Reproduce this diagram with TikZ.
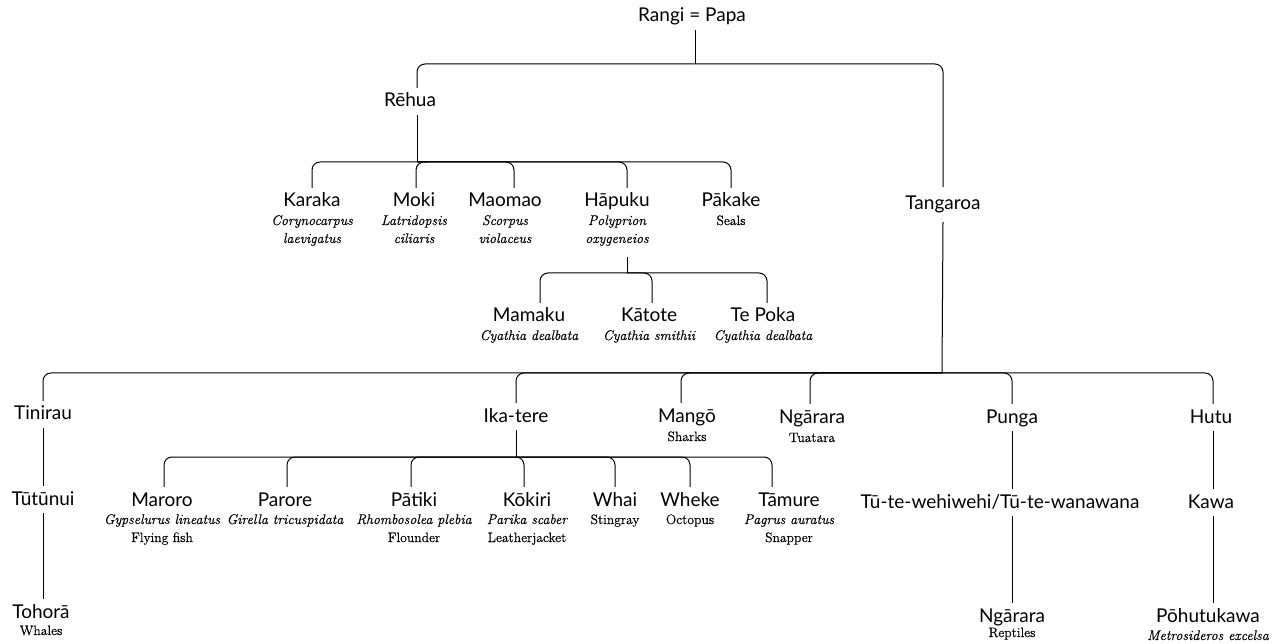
\documentclass[tikz,border=0pt]{standalone}
\usepackage{fontspec}
\newfontfamily\gsfamily{Lato}
\newfontfamily\gafamily[FakeBold=0.4]{Latin Modern Roman}
\newcommand\personfont{\gsfamily\fontsize{19}{22}\selectfont}
\newcommand\latinfont{\gafamily\itshape\fontsize{14}{16}\selectfont}
\newcommand\commonfont{\gafamily\upshape\fontsize{13.6}{16}\selectfont}
\tikzset{
  person/.style={font=\personfont, anchor=base, inner xsep=1pt, inner ysep=5pt,
                 text height=14pt, text depth=3pt},
  latin/.style={font=\latinfont, anchor=base, inner sep=0pt},
  common/.style={font=\commonfont, anchor=base, inner sep=0pt},
  link/.style={line width=1pt, black},
  corner/.style={link, rounded corners=8pt},
}
\begin{document}
\begin{tikzpicture}[x=1pt, y=-1pt]
\useasboundingbox[fill=white] (0,0) rectangle (1275,644);

% ---- first generations
\node[person] (rangi) at (692,22) {Rangi = Papa};
\node[person] (rehua) at (410,107) {Rēhua};
\node[person, inner ysep=9pt] (tangaroa) at (943,210) {Tangaroa};

% ---- children of Rehua
\node[person] (karaka) at (312,207) {Karaka};
\node[latin] (karakaA) at (312,225) {Corynocarpus};
\node[latin] (karakaB) at (312,243) {laevigatus};
\node[person] (moki) at (414,207) {Moki};
\node[latin] (mokiA) at (414,225) {Latridopsis};
\node[latin] (mokiB) at (414,243) {ciliaris};
\node[person] (maomao) at (505,207) {Maomao};
\node[latin] (maomaoA) at (505,225) {Scorpus};
\node[latin] (maomaoB) at (505,243) {violaceus};
\node[person] (hapuku) at (617,207) {Hāpuku};
\node[latin] (hapukuA) at (617,225) {Polyprion};
\node[latin, inner ysep=10pt, text depth=4pt] (hapukuB) at (617,243) {oxygeneios};
\node[person] (pakake) at (731,207) {Pākake};
\node[common] (pakakeA) at (731,225) {Seals};

% ---- children of Hapuku
\node[person] (mamaku) at (529,322) {Mamaku};
\node[latin] (mamakuA) at (529,340) {Cyathia dealbata};
\node[person] (katote) at (649,322) {Kātote};
\node[latin] (katoteA) at (649,340) {Cyathia smithii};
\node[person] (tepoka) at (763,322) {Te Poka};
\node[latin] (tepokaA) at (763,340) {Cyathia dealbata};

% ---- children of Tangaroa
\node[person] (tinirau) at (43,420) {Tinirau};
\node[person] (ikatere) at (516,422) {Ika-tere};
\node[person] (mango) at (687,422) {Mangō};
\node[common] (mangoA) at (687,441) {Sharks};
\node[person] (ngararaT) at (812,423) {Ngārara};
\node[common] (ngararaTA) at (812,442) {Tuatara};
\node[person] (punga) at (1012,423) {Punga};
\node[person] (hutu) at (1211,423) {Hutu};

% ---- line of Tinirau
\node[person] (tutunui) at (43,505) {Tūtūnui};
\node[person] (tohora) at (41,618) {Tohorā};
\node[common] (tohoraA) at (41,635) {Whales};

% ---- children of Ika-tere
\node[person] (maroro) at (162,506) {Maroro};
\node[latin] (maroroA) at (162,524) {Gypselurus lineatus};
\node[common] (maroroB) at (162,542) {Flying fish};
\node[person] (parore) at (285,506) {Parore};
\node[latin] (paroreA) at (285,524) {Girella tricuspidata};
\node[person] (patiki) at (414,506) {Pātiki};
\node[latin] (patikiA) at (414,524) {Rhombosolea plebia};
\node[common] (patikiB) at (414,542) {Flounder};
\node[person] (kokiri) at (527,506) {Kōkiri};
\node[latin] (kokiriA) at (527,524) {Parika scaber};
\node[common] (kokiriB) at (527,542) {Leatherjacket};
\node[person] (whai) at (615,506) {Whai};
\node[common] (whaiA) at (615,524) {Stingray};
\node[person] (wheke) at (690,506) {Wheke};
\node[common] (whekeA) at (690,524) {Octopus};
\node[person] (tamure) at (789,506) {Tāmure};
\node[latin] (tamureA) at (789,524) {Pagrus auratus};
\node[common] (tamureB) at (789,542) {Snapper};

% ---- lines of Punga and Hutu
\node[person] (tute) at (1000,508) {Tū-te-wehiwehi/Tū-te-wanawana};
\node[person] (ngararaR) at (1012,622) {Ngārara};
\node[common] (ngararaRA) at (1012,637) {Reptiles};
\node[person] (kawa) at (1211,508) {Kawa};
\node[person] (pohutu) at (1208,622) {Pōhutukawa};
\node[latin] (pohutuA) at (1208,640) {Metrosideros excelsa};

% ---- connectors
\coordinate (topbar) at (695,64);
\draw[link] ([xshift=3pt]rangi.south) -- (topbar);
\draw[corner] (topbar) -| ([xshift=7pt]rehua.north);
\draw[corner] (topbar) -| (tangaroa.north);

\coordinate (rbar) at (417,162);
\draw[link] ([xshift=7pt]rehua.south) -- (rbar);
\draw[corner] (rbar) -| (karaka.north);
\draw[corner] ([xshift=10pt]rbar) -| ([xshift=2pt]moki.north);
\draw[corner] (rbar) -| ([xshift=9pt]maomao.north);
\draw[corner] (rbar) -| ([xshift=10pt]hapuku.north);
\draw[corner] (rbar) -| (pakake.north);

\coordinate (hbar) at (627,273);
\draw[link] ([xshift=10pt]hapukuB.south) -- (hbar);
\draw[corner] (hbar) -| ([xshift=11pt]mamaku.north);
\draw[corner] (hbar) -| ([xshift=3pt]katote.north);
\draw[corner] (hbar) -| ([xshift=4pt]tepoka.north);

\coordinate (tbar) at (942,373);
\draw[link] (tangaroa.south) -- (tbar);
\draw[corner] (tbar) -| (tinirau.north);
\draw[corner] (tbar) -| (ikatere.north);
\draw[corner] (tbar) -| ([xshift=-6pt]mango.north);
\draw[corner] (tbar) -| ([xshift=-2pt]ngararaT.north);
\draw[corner] (tbar) -| (punga.north);
\draw[corner] (tbar) -| ([xshift=2pt]hutu.north);

\draw[link] (tinirau.south) -- (tutunui.north);
\draw[link] (tutunui.south) -- (tutunui.south |- tohora.north);

\coordinate (ibar) at (516,457);
\draw[link] (ikatere.south) -- (ibar);
\draw[corner] (ibar) -| ([xshift=2pt]maroro.north);
\draw[corner] (ibar) -| ([xshift=2pt]parore.north);
\draw[corner] (ibar) -| ([xshift=-3pt]patiki.north);
\draw[corner] (ibar) -| ([xshift=-3pt]kokiri.north);
\draw[corner] (ibar) -| (whai.north);
\draw[corner] (ibar) -| (wheke.north);
\draw[corner] (ibar) -| ([xshift=-17pt]tamure.north);

\draw[link] (punga.south) -- (punga.south |- tute.north);
\draw[link] (tute.south -| ngararaR.north) -- (ngararaR.north);
\draw[link] ([xshift=2pt]hutu.south) -- ([xshift=2pt]hutu.south |- kawa.north);
\draw[link] ([xshift=2pt]kawa.south) -- ([xshift=2pt]kawa.south |- pohutu.north);
\end{tikzpicture}
\end{document}
